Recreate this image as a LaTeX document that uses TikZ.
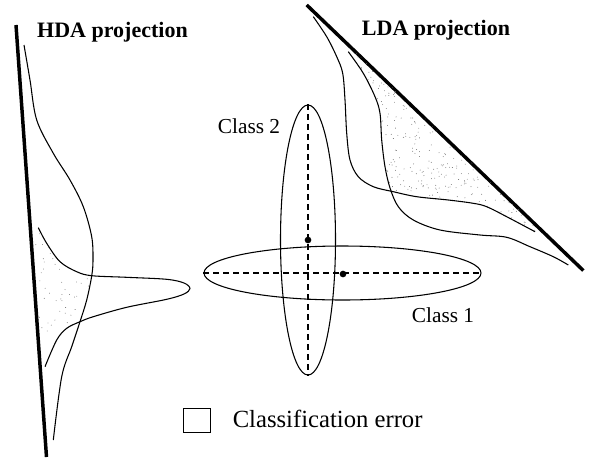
\documentclass[tikz,border=0pt]{standalone}
\usepackage{fontspec}
\setmainfont{Liberation Serif}
\usetikzlibrary{shapes.geometric}
\begin{document}
\begin{tikzpicture}[x=0.75pt,y=-0.75pt,
  curve/.style={line width=0.8pt,smooth,tension=0.55},
  projaxis/.style={line width=2.6pt},
  classell/.style={draw,line width=0.8pt,ellipse,inner sep=0pt},
  meanaxis/.style={line width=0.8pt,dash pattern=on 4.5pt off 3pt},
  title/.style={font=\fontsize{16.5}{19}\selectfont\bfseries},
  lab/.style={font=\fontsize{16}{19}\selectfont},
  stip/.style={fill=black!60}]
\useasboundingbox[fill=white] (0,0) rectangle (591,457);

% projection axes
\coordinate (h1) at (16,25);
\coordinate (h2) at (46.5,457);
\coordinate (l1) at (306.7,5);
\coordinate (l2) at (583.3,270.5);
\draw[projaxis] (h1) -- (h2);
\draw[projaxis] (l1) -- (l2);

% titles
\node[title] (hda) at (112.5,32) {HDA projection};
\node[title] (lda) at (436,30) {LDA projection};

% HDA stipple (classification error)
\begin{scope}
\clip plot[smooth] coordinates {(38.3,227.7) (46.7,243.3) (60,261.7) (76.7,271.7) (91.7,275.7)}
  -- plot[smooth] coordinates {(90.5,285) (86.7,300) (80,321.7)}
  -- plot[smooth] coordinates {(66.7,328.3) (56.7,340) (45,366.7)}
  -- (40,367) -- (30,228) -- cycle;
\pgfmathsetseed{11}
\foreach \i in {1,...,80}{
  \fill[stip] ({28+66*rnd},{225+145*rnd}) circle[radius=0.33pt];
}
\end{scope}

% LDA stipple (classification error)
\begin{scope}
\clip plot[smooth] coordinates {(348.3,51.7) (363.3,73.3) (375,96.7) (380,113.3) (381.7,140) (385,166.7) (390,189)}
  -- plot[smooth] coordinates {(393.3,191.7) (416.7,196.7) (448.3,200) (473.3,203.3) (486.7,206.7) (506.7,216.7) (535,231.7)}
  -- (541,229) -- (349,46) -- cycle;
\pgfmathsetseed{5}
\foreach \i in {1,...,1000}{
  \fill[stip] ({345+200*rnd},{44+192*rnd}) circle[radius=0.33pt];
}
\end{scope}

% HDA projected densities
\draw[curve] plot coordinates {(24,45) (30,80) (36.7,120) (53.3,153.3) (70,180) (83.3,206.7) (91.7,236.7) (93,260) (91.7,276) (86.7,300) (80,321.7) (71.7,346.7) (61.7,376.7) (53.3,440)};
\draw[curve] plot coordinates {(38.3,227.7) (46.7,243.3) (60,261.7) (76.7,271.7) (91.7,275.7) (126.7,277.3) (166.7,279.3) (184,283) (190,288.5) (184,294) (166.7,299.3) (126.7,307.3) (93.3,316.7) (80,321.7) (66.7,328.3) (56.7,340) (45,366.7)};

% LDA projected densities
\draw[curve] plot coordinates {(313.3,16.7) (326.7,36.7) (336.7,56.7) (342.7,73.3) (345,100) (346.7,133.3) (350,160) (358.3,176.7) (373.3,186.7) (393.3,191.7) (416.7,196.7) (448.3,200) (473.3,203.3) (486.7,206.7) (506.7,216.7) (535,231.7)};
\draw[curve] plot coordinates {(348.3,51.7) (363.3,73.3) (375,96.7) (380,113.3) (381.7,140) (385,166.7) (390,188) (398.3,206.7) (413.3,220) (440,230) (480,235) (506.7,237.3) (530,246.7) (553.3,256.7) (568.3,265)};

% class ellipses
\node[classell,minimum width=207.75pt,minimum height=40.5pt] (c1) at (342.5,273) {};
\node[classell,minimum width=41.25pt,minimum height=202.5pt] (c2) at (308,240) {};
\draw[meanaxis] (c1.west) -- (c1.east);
\draw[meanaxis] (c2.north) -- (c2.south);
\fill (343,274) circle[radius=2.5pt];
\fill (c2.center) circle[radius=2.5pt];

% class labels
\node[lab] (cl2) at (249,126) {Class 2};
\node[lab] (cl1) at (443,315.5) {Class 1};

% legend
\node[draw,line width=0.8pt,minimum width=20.5pt,minimum height=18pt,inner sep=0pt] (leg) at (197,420.5) {};
\node[font=\fontsize{18.5}{22}\selectfont,anchor=west,inner sep=0pt] (legtxt) at (232.5,419) {Classification error};
\end{tikzpicture}
\end{document}
